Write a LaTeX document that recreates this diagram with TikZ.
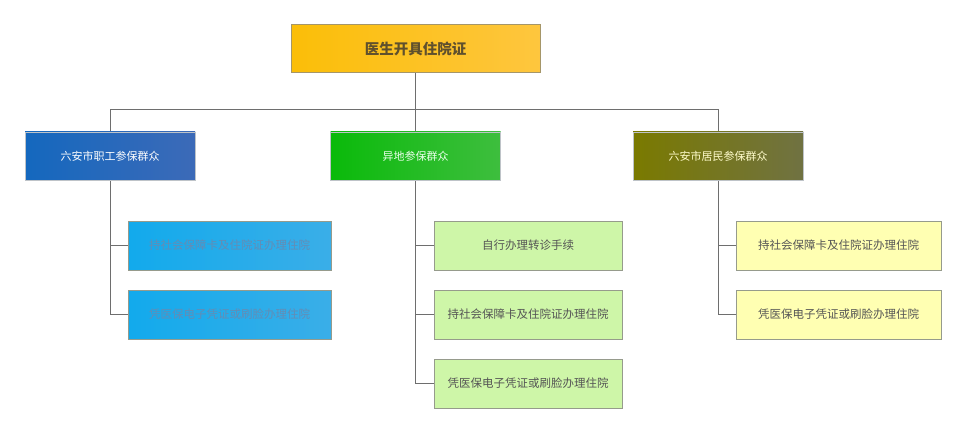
\documentclass[tikz,border=0pt]{standalone}
\usepackage{fontspec}
\setmainfont{Noto Sans CJK SC}
\definecolor{rootleft}{RGB}{251,190,8}
\definecolor{rootright}{RGB}{254,198,62}
\definecolor{rootline}{RGB}{165,150,105}
\definecolor{roottext}{RGB}{95,80,45}
\definecolor{blueleft}{RGB}{20,104,190}
\definecolor{blueright}{RGB}{60,106,184}
\definecolor{greenleft}{RGB}{10,186,10}
\definecolor{greenright}{RGB}{62,190,62}
\definecolor{oliveleft}{RGB}{122,122,0}
\definecolor{oliveright}{RGB}{112,114,66}
\definecolor{skyleft}{RGB}{18,170,236}
\definecolor{skyright}{RGB}{58,174,232}
\definecolor{skytext}{RGB}{100,140,180}
\definecolor{limefill}{RGB}{206,246,168}
\definecolor{creamfill}{RGB}{255,255,178}
\definecolor{boxline}{RGB}{150,155,140}
\definecolor{groupline}{RGB}{190,195,200}
\definecolor{wiregray}{RGB}{110,110,110}
\definecolor{itemtext}{RGB}{85,85,85}
\usetikzlibrary{positioning,backgrounds}

\begin{document}
\begin{tikzpicture}[x=1pt,y=-1pt,
    rootbox/.style={draw=rootline,line width=1pt,left color=rootleft,right color=rootright,
        minimum width=249pt,minimum height=48pt,inner sep=0pt,
        font=\fontsize{14.5}{16}\selectfont\bfseries,text=roottext},
    groupbox/.style={draw=groupline,line width=0.8pt,minimum width=170pt,minimum height=48pt,
        inner sep=0pt,font=\fontsize{11}{13}\selectfont},
    itembox/.style={draw=boxline,line width=1pt,minimum height=49pt,inner sep=0pt,
        font=\fontsize{11.5}{13}\selectfont,text=itemtext},
    wire/.style={wiregray,line width=1pt}]

        % Moldura
        \useasboundingbox (0,0) rectangle (966,433);

        % Raiz
        \node[rootbox] (root) at (415.5,49) {医生开具住院证};

        % Grupos
        \node[groupbox,left color=blueleft,right color=blueright,text=white]
            (staff) at (110,156) {六安市职工参保群众};
        \node[groupbox,left color=greenleft,right color=greenright,text=green!8]
            (remote) at (415.5,156) {异地参保群众};
        \node[groupbox,left color=oliveleft,right color=oliveright,text=yellow!20]
            (resident) at (718,156) {六安市居民参保群众};

        % Itens
        \node[itembox,minimum width=203pt,left color=skyleft,right color=skyright,text=skytext]
            (staffA) at (229.5,245.5) {持社会保障卡及住院证办理住院};
        \node[itembox,minimum width=203pt,left color=skyleft,right color=skyright,text=skytext]
            (staffB) at (229.5,314.5) {凭医保电子凭证或刷脸办理住院};
        \foreach \name/\py/\txt in {remoteA/245.5/自行办理转诊手续,
            remoteB/314.5/持社会保障卡及住院证办理住院,
            remoteC/383.5/凭医保电子凭证或刷脸办理住院}{
            \node[itembox,minimum width=188pt,fill=limefill] (\name) at (528,\py) {\txt};
        }
        \foreach \name/\py/\txt in {residentA/245.5/持社会保障卡及住院证办理住院,
            residentB/314.5/凭医保电子凭证或刷脸办理住院}{
            \node[itembox,minimum width=205pt,fill=creamfill] (\name) at (838.5,\py) {\txt};
        }

        % Ligacoes
        \begin{scope}[on background layer]
        \coordinate (bus) at (415.5,110);
        \draw[wire] (root.south) -- (bus);
        \draw[wire] (staff.north) -- (staff.north |- bus) -- (resident.north |- bus) -- (resident.north);
        \draw[wire] (bus) -- (remote.north);
        \foreach \g/\c in {staff/staffA,staff/staffB,remote/remoteA,remote/remoteB,
            remote/remoteC,resident/residentA,resident/residentB}{
            \draw[wire] (\g.south) |- (\c.west);
        }
        \end{scope}

    \end{tikzpicture}
\end{document}
